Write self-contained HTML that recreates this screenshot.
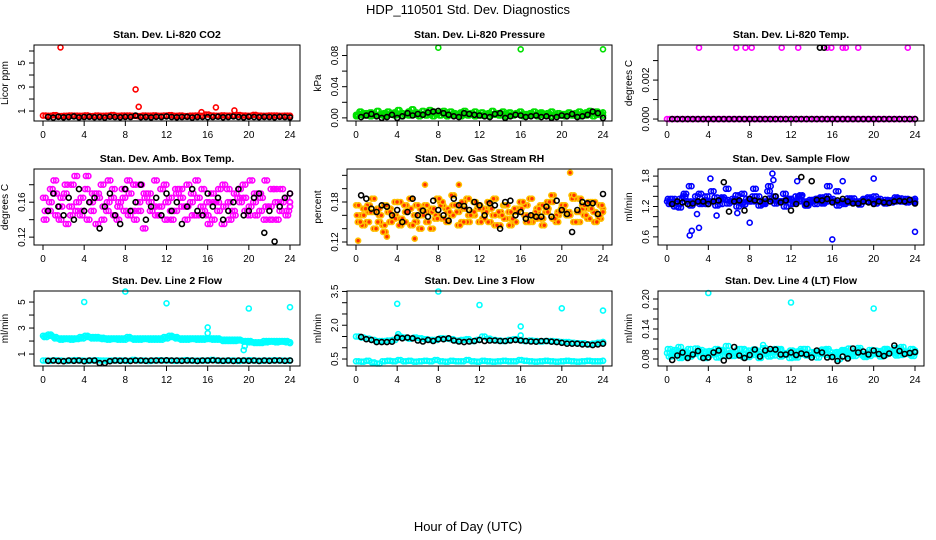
<!DOCTYPE html>
<html><head><meta charset="utf-8"><style>
body{margin:0;background:#fff;}
svg{display:block;font-family:"Liberation Sans",sans-serif;}
</style></head><body>
<svg id="c" width="936" height="540" viewBox="0 0 936 540">
<text x="468" y="14" text-anchor="middle" font-size="13">HDP_110501  Std. Dev. Diagnostics</text>
<text x="468" y="531" text-anchor="middle" font-size="13">Hour of Day (UTC)</text>
</svg>
<script>
const p1Red=[0.62,0.6,0.65,0.58,0.6,0.63,0.61,0.6,0.64,0.59,0.62,0.6,0.61,0.66,0.6,0.62,0.63,0.6,0.58,0.62,0.61,0.64,0.6,0.62,0.65,0.6,0.62,0.59,0.61,0.63,0.6,0.7,0.62,0.6,0.64,0.61,0.6,0.66,0.62,0.6,0.68,0.61,0.6,0.63,0.62,0.6,0.61,0.6];
const p1Blk=[0.5,0.45,0.52,0.48,0.5,0.55,0.47,0.5,0.52,0.49,0.5,0.46,0.53,0.5,0.48,0.51,0.5,0.62,0.49,0.5,0.47,0.52,0.5,0.55,0.5,0.48,0.5,0.52,0.46,0.5,0.51,0.49,0.5,0.53,0.48,0.5,0.55,0.5,0.47,0.52,0.5,0.49,0.51,0.5,0.48,0.52,0.5,0.47];
const p1OutX=[1.7,9.0,9.3,15.4,16.8,18.6];
const p1OutY=[6.3,2.8,1.35,0.9,1.3,1.05];

const p2GreenA=[0.004,0.008,0.006,0.003,0.007,0.005,0.009,0.004,0.006,0.008,0.005,0.007,0.010,0.006,0.004,0.008,0.011,0.007,0.005,0.009,0.006,0.010,0.008,0.006,0.007,0.009,0.005,0.008,0.006,0.004,0.007,0.009,0.005,0.006,0.008,0.004,0.007,0.005,0.006,0.009,0.004,0.006,0.008,0.005,0.007,0.004,0.006,0.008,0.005,0.003,0.006,0.008,0.004,0.007,0.005,0.006,0.008,0.004,0.006,0.003,0.005,0.007,0.004,0.006,0.008,0.005,0.007,0.009,0.006,0.008,0.005,0.007];
const p2GreenB=[0.002,0.005,0.003,0.006,0.002,0.004,0.003,0.005,0.002,0.004,0.006,0.003,0.005,0.002,0.004,0.003,0.006,0.004,0.002,0.005,0.003,0.004,0.002,0.005,0.003,0.006,0.002,0.004,0.003,0.005,0.002,0.004,0.003,0.006,0.002,0.004,0.003,0.005,0.002,0.004,0.006,0.003,0.005,0.002,0.004,0.003,0.006,0.004,0.002,0.005,0.003,0.004,0.002,0.005,0.003,0.006,0.002,0.004,0.003,0.005,0.002,0.004,0.003,0.006,0.002,0.004,0.003,0.005,0.002,0.004,0.006,0.003];
const p2Blk=[0.001,0.003,0.005,0.002,0.0,0.001,0.004,0.0,0.002,0.006,0.003,0.005,0.004,0.007,0.008,0.009,0.006,0.004,0.002,0.001,0.006,0.005,0.004,0.003,0.002,0.001,0.005,0.006,0.0,0.002,0.004,0.003,0.001,0.002,0.003,0.001,0.002,0.0,0.001,0.003,0.002,0.005,0.001,0.002,0.004,0.008,0.006,0.0];
const p2OutX=[8,16,24];
const p2OutY=[0.09,0.088,0.088];

const p3Mag=[0,0,0,0,0,0,0,0,0,0,0,0,0,0,0,0,0,0,0,0,0,0,0,0,0,0,0,0,0,0,0,0,0,0,0,0,0,0,0,0,0,0,0,0,0,0,0,0];
const p3Blk=[0,0,0,0,0,0,0,0,0,0,0,0,0,0,0,0,0,0,0,0,0,0,0,0,0,0,0,0,0,0,0,0,0,0,0,0,0,0,0,0,0,0,0,0,0,0,0,0];
const p3OutX=[3.1,6.7,7.6,8.2,11.1,12.7,15.5,15.9,17.0,17.3,18.5,23.3];
const p3OutY=[0.00366,0.00366,0.00366,0.00366,0.00366,0.00366,0.00366,0.00366,0.00366,0.00366,0.00366,0.00366];
const p3BlkOutX=[14.8,15.2];
const p3BlkOutY=[0.00366,0.00366];

const p4A=[.165,.150,.185,.140,.170,.155,.190,.145,.175,.160,.135,.180,.150,.165,.140,.175,.185,.150,.160,.130,.170,.155,.145,.180,.165,.150,.175,.140,.160,.185,.155,.145,.170,.160,.135,.175,.150,.165,.180,.145,.160,.170,.140,.155,.175,.150,.165,.160];
const p4B=[.150,.175,.145,.165,.135,.180,.160,.150,.140,.170,.165,.155,.185,.145,.160,.150,.170,.140,.180,.165,.150,.145,.175,.160,.140,.170,.155,.180,.145,.165,.150,.135,.160,.175,.155,.140,.170,.160,.150,.185,.145,.165,.155,.175,.140,.160,.150,.170];
const p4C=[.140,.160,.170,.155,.180,.145,.150,.165,.190,.150,.170,.140,.160,.175,.155,.165,.145,.180,.150,.170,.160,.185,.155,.140,.150,.175,.165,.155,.170,.145,.175,.160,.140,.150,.180,.160,.145,.175,.165,.155,.170,.150,.185,.140,.160,.175,.145,.155];
const p4Blk=[.150,.170,.155,.145,.165,.140,.175,.150,.160,.165,.130,.155,.170,.145,.135,.175,.150,.160,.180,.140,.155,.165,.145,.170,.150,.160,.135,.155,.175,.150,.145,.170,.155,.165,.140,.150,.160,.175,.145,.150,.165,.170,.125,.150,.115,.155,.165,.170];

const p5A=[.175,.160,.150,.185,.170,.145,.165,.155,.180,.150,.170,.160,.140,.175,.165,.155,.180,.170,.160,.175,.150,.185,.165,.170,.155,.180,.160,.145,.175,.165,.150,.170,.160,.185,.155,.175,.165,.180,.150,.170,.160,.190,.165,.175,.155,.180,.160,.170];
const p5B=[.150,.170,.165,.140,.160,.175,.150,.180,.155,.165,.145,.175,.160,.150,.170,.185,.155,.165,.175,.145,.170,.160,.180,.150,.165,.170,.145,.160,.175,.155,.165,.180,.150,.160,.170,.145,.180,.155,.165,.175,.160,.150,.185,.160,.170,.150,.175,.165];
const p5C=[.160,.145,.175,.165,.150,.135,.170,.160,.145,.175,.185,.150,.170,.165,.140,.160,.175,.150,.190,.165,.180,.150,.160,.175,.170,.150,.185,.165,.155,.145,.170,.180,.175,.150,.165,.155,.170,.190,.160,.175,.165,.185,.150,.170,.180,.165,.155,.170];
const p5Blk=[.190,.185,.170,.165,.175,.173,.160,.168,.150,.165,.185,.160,.167,.158,.182,.168,.160,.152,.185,.175,.174,.168,.180,.175,.160,.178,.175,.140,.180,.182,.160,.165,.155,.160,.158,.158,.173,.158,.182,.168,.162,.135,.168,.180,.178,.178,.162,.192];
const p5OutX=[0.2,3.0,5.7,6.7,10.0,20.8];
const p5OutY=[0.122,0.128,0.125,0.206,0.206,0.224];

const p6A=[1.30,1.35,1.25,1.40,1.30,1.28,1.45,1.32,1.30,1.38,1.25,1.33,1.30,1.42,1.28,1.35,1.30,1.40,1.27,1.50,1.32,1.30,1.45,1.35,1.28,1.40,1.30,1.33,1.25,1.38,1.30,1.35,1.50,1.30,1.28,1.36,1.30,1.32,1.38,1.30,1.35,1.28,1.32,1.30,1.36,1.30,1.33,1.35];
const p6B=[1.25,1.20,1.35,1.30,1.22,1.40,1.28,1.25,1.50,1.30,1.38,1.26,1.35,1.30,1.24,1.30,1.55,1.22,1.30,1.36,1.26,1.30,1.32,1.25,1.40,1.30,1.22,1.30,1.35,1.26,1.60,1.30,1.28,1.25,1.32,1.28,1.24,1.30,1.35,1.26,1.30,1.33,1.28,1.35,1.30,1.28,1.32,1.28];
const p6C=[1.35,1.30,1.18,1.45,1.60,1.30,1.25,1.40,1.30,1.22,1.35,1.55,1.30,1.20,1.45,1.30,1.40,1.30,1.25,1.60,1.40,1.30,1.20,1.35,1.30,1.42,1.22,1.30,1.35,1.28,1.40,1.30,1.22,1.30,1.36,1.30,1.28,1.35,1.30,1.40,1.30,1.26,1.32,1.38,1.30,1.35,1.30,1.30];
const p6OutX=[2.2,2.4,2.9,3.1,4.2,4.8,8.0,10.3,10.2,12.6,16.0,17.0,20.0,24.0,6.8];
const p6OutY=[0.63,0.72,1.05,0.78,1.75,1.02,0.88,1.72,1.85,1.70,0.55,1.70,1.75,0.70,1.07];
const p6Blk=[1.25,1.3,1.28,1.25,1.26,1.3,1.3,1.25,1.3,1.32,1.68,1.1,1.3,1.32,1.12,1.35,1.32,1.3,1.35,1.3,1.4,1.28,1.32,1.12,1.25,1.78,1.25,1.7,1.33,1.32,1.35,1.28,1.32,1.35,1.3,1.26,1.26,1.3,1.28,1.25,1.3,1.28,1.27,1.3,1.31,1.3,1.33,1.26];

const p7Top=[2.4,2.5,2.3,2.2,2.2,2.2,2.2,2.3,2.4,2.3,2.3,2.25,2.2,2.2,2.2,2.2,2.3,2.2,2.2,2.2,2.2,2.2,2.2,2.3,2.4,2.3,2.2,2.2,2.2,2.2,2.2,2.2,2.2,2.2,2.1,2.1,2.1,2.1,2.0,2.0,1.9,1.9,2.0,2.0,2.0,2.0,2.0,1.9];
const p7Top2=[2.3,2.4,2.2,2.1,2.15,2.1,2.15,2.2,2.3,2.2,2.2,2.15,2.1,2.15,2.1,2.1,2.2,2.1,2.1,2.15,2.1,2.1,2.1,2.2,2.3,2.2,2.1,2.1,2.15,2.1,2.1,2.15,2.1,2.1,2.0,2.0,2.0,2.05,1.95,1.9,1.85,1.85,1.9,1.95,1.9,1.95,1.9,1.85];
const p7Bot=[0.5,0.48,0.52,0.5,0.47,0.5,0.53,0.5,0.48,0.5,0.52,0.5,0.49,0.5,0.51,0.5,0.48,0.55,0.5,0.5,0.47,0.5,0.52,0.5,0.5,0.48,0.5,0.53,0.5,0.49,0.5,0.5,0.55,0.5,0.48,0.5,0.5,0.47,0.5,0.52,0.5,0.48,0.5,0.5,0.52,0.5,0.49,0.5];
const p7Blk=[0.48,0.5,0.47,0.45,0.5,0.48,0.5,0.45,0.5,0.5,0.3,0.3,0.45,0.5,0.48,0.5,0.47,0.5,0.5,0.48,0.5,0.5,0.5,0.52,0.5,0.5,0.48,0.5,0.5,0.47,0.5,0.5,0.52,0.5,0.48,0.5,0.47,0.5,0.5,0.48,0.5,0.47,0.5,0.48,0.5,0.5,0.48,0.5];
const p7OutX=[4,8,12,16,16,19.5,19.6,20,24];
const p7OutY=[5.0,5.8,4.9,3.05,2.6,1.3,1.6,4.5,4.6];

const p8Bot=[0.4,0.38,0.42,0.35,0.3,0.4,0.42,0.4,0.45,0.4,0.42,0.38,0.4,0.42,0.4,0.45,0.4,0.38,0.42,0.4,0.4,0.45,0.4,0.38,0.42,0.4,0.38,0.4,0.42,0.4,0.4,0.45,0.42,0.4,0.38,0.4,0.42,0.4,0.38,0.4,0.42,0.4,0.38,0.4,0.42,0.4,0.4,0.42];
const p8Mid=[1.5,1.45,1.4,1.35,1.3,1.3,1.32,1.35,1.5,1.45,1.4,1.45,1.42,1.38,1.35,1.35,1.42,1.4,1.38,1.32,1.35,1.38,1.3,1.35,1.5,1.4,1.35,1.32,1.3,1.35,1.38,1.35,1.3,1.32,1.3,1.28,1.3,1.3,1.28,1.25,1.25,1.22,1.2,1.2,1.15,1.18,1.22,1.25];
const p8Blk=[1.48,1.38,1.35,1.25,1.25,1.25,1.27,1.45,1.42,1.45,1.42,1.32,1.28,1.35,1.3,1.38,1.38,1.42,1.32,1.28,1.25,1.28,1.3,1.35,1.3,1.32,1.32,1.3,1.3,1.32,1.35,1.32,1.3,1.28,1.27,1.3,1.3,1.27,1.25,1.22,1.18,1.18,1.18,1.15,1.15,1.12,1.15,1.18];
const p8OutX=[4,4.1,8,12,16,16,20,24];
const p8OutY=[2.95,1.6,3.5,2.9,1.95,1.55,2.75,2.65];

const p9A=[.092,.088,.095,.085,.1,.09,.094,.087,.096,.09,.098,.086,.093,.091,.089,.097,.088,.095,.09,.092,.087,.099,.09,.093,.085,.096,.091,.088,.094,.09,.097,.086,.092,.095,.089,.091,.098,.087,.093,.09,.096,.088,.094,.091,.099,.092,.089,.095];
const p9B=[.085,.098,.082,.093,.088,.101,.084,.095,.089,.083,.097,.091,.086,.1,.084,.093,.099,.082,.09,.096,.1,.085,.092,.097,.083,.1,.087,.094,.083,.099,.088,.093,.08,.096,.101,.086,.092,.084,.098,.09,.085,.1,.093,.087,.104,.095,.086,.097];
const p9C=[.1,.09,.104,.095,.085,.092,.098,.082,.09,.1,.086,.106,.092,.088,.1,.084,.095,.09,.102,.085,.094,.1,.088,.082,.095,.09,.1,.087,.093,.096,.1,.088,.094,.098,.085,.092,.102,.09,.086,.097,.091,.1,.095,.102,.088,.094,.1,.092];
const p9Blk=[.078,.087,.093,.082,.089,.096,.082,.083,.093,.097,.077,.086,.104,.087,.082,.088,.099,.085,.097,.1,.099,.089,.089,.093,.088,.091,.089,.083,.097,.093,.083,.084,.076,.085,.081,.101,.093,.095,.089,.097,.09,.086,.091,.107,.096,.09,.092,.094];
const p9OutX=[4,12,20,9.3];
const p9OutY=[0.212,0.193,0.181,0.108];

const colL=[34,347,658],colR=[300,612,924],colX0=[43,356,667],colX24=[290,603,915];
const rowT=[45,169,291],rowB=[121,245,366];
const svg=document.getElementById('c');
const NS='http://www.w3.org/2000/svg';
function mk(tag,attrs,parent){const e=document.createElementNS(NS,tag);for(const k in attrs)e.setAttribute(k,attrs[k]);parent.appendChild(e);return e;}
function cloud(a,b,c,col,fill){return [{v:a,c:col,f:fill},{v:b,c:col,f:fill,off:0.17},{v:c,c:col,f:fill,off:0.33},{v:c,c:col,f:fill,off:0.08},{v:a,c:col,f:fill,off:0.25},{v:b,c:col,f:fill,off:0.42}];}

const panels=[
 {id:'co2',title:'Stan. Dev. Li-820 CO2',ylab:'Licor ppm',ymin:0.17,ymax:6.5,ticks:[1,2,3,4,5,6],labels:[1,3,5],fmt:v=>String(v),
  series:[{v:p1Red,c:'#ff0000'},{v:p1Red,c:'#ff0000',off:0.25},{v:p1Blk,c:'#000',blk:1},{x:p1OutX,v:p1OutY,c:'#ff0000'}]},
 {id:'pressure',title:'Stan. Dev. Li-820 Pressure',ylab:'kPa',ymin:-0.004,ymax:0.0935,ticks:[0,0.02,0.04,0.06,0.08],labels:[0,0.04,0.08],fmt:v=>v.toFixed(2),
  series:[{v:p2GreenA,c:'#00e000'},{v:p2GreenB,c:'#00e000'},{v:p2GreenB,c:'#00e000',off:0.17},{v:p2GreenA,c:'#00e000',off:0.17},{v:p2Blk,c:'#000',blk:1},{x:p2OutX,v:p2OutY,c:'#00e000'}]},
 {id:'temp',title:'Stan. Dev. Li-820 Temp.',ylab:'degrees C',ymin:-0.0001,ymax:0.0038,ticks:[0,0.001,0.002,0.003],labels:[0,0.002],fmt:v=>v.toFixed(3),
  series:[{v:p3Mag,c:'#ff00ff'},{v:p3Mag,c:'#ff00ff',off:0.25},{v:p3Blk,c:'#000',blk:1},{x:p3OutX,v:p3OutY,c:'#ff00ff'},{x:p3BlkOutX,v:p3BlkOutY,c:'#000'}]},
 {id:'amb-box-temp',title:'Stan. Dev. Amb. Box Temp.',ylab:'degrees C',ymin:0.111,ymax:0.198,ticks:[0.12,0.14,0.16,0.18],labels:[0.12,0.16],fmt:v=>v.toFixed(2),
  series:cloud(p4A,p4B,p4C,'#ff00ff').concat([{v:p4Blk,c:'#000',blk:1}])},
 {id:'gas-rh',title:'Stan. Dev. Gas Stream RH',ylab:'percent',ymin:0.1155,ymax:0.2295,ticks:[0.12,0.14,0.16,0.18,0.20,0.22],labels:[0.12,0.18],fmt:v=>v.toFixed(2),
  series:cloud(p5A,p5B,p5C,'#ffc000','#ff3000').concat([{x:p5OutX,v:p5OutY,c:'#ffc000',f:'#ff3000'},{v:p5Blk,c:'#000',blk:1}])},
 {id:'sample-flow',title:'Stan. Dev. Sample Flow',ylab:'ml/min',ymin:0.44,ymax:1.94,ticks:[0.6,0.8,1.0,1.2,1.4,1.6,1.8],labels:[0.6,1.2,1.8],fmt:v=>v.toFixed(1),
  series:cloud(p6A,p6B,p6C,'#0000ff').concat([{x:p6OutX,v:p6OutY,c:'#0000ff'},{v:p6Blk,c:'#000',blk:1}])},
 {id:'line2-flow',title:'Stan. Dev. Line 2 Flow',ylab:'ml/min',ymin:0.08,ymax:5.85,ticks:[1,2,3,4,5],labels:[1,3,5],fmt:v=>String(v),
  series:[{v:p7Top,c:'#00ffff'},{v:p7Top,c:'#00ffff',off:0.25},{v:p7Top2,c:'#00ffff',off:0.12},{v:p7Top2,c:'#00ffff',off:0.37},{v:p7Bot,c:'#00ffff'},{v:p7Bot,c:'#00ffff',off:0.25},{x:p7OutX,v:p7OutY,c:'#00ffff'},{v:p7Blk,c:'#000',blk:1}]},
 {id:'line3-flow',title:'Stan. Dev. Line 3 Flow',ylab:'ml/min',ymin:0.19,ymax:3.52,ticks:[0.5,1,1.5,2,2.5,3,3.5],labels:[0.5,2,3.5],fmt:v=>v.toFixed(1),
  series:[{v:p8Bot,c:'#00ffff'},{v:p8Bot,c:'#00ffff',off:0.25},{v:p8Mid,c:'#00ffff'},{v:p8Mid,c:'#00ffff',off:0.25},{x:p8OutX,v:p8OutY,c:'#00ffff'},{v:p8Blk,c:'#000',blk:1}]},
 {id:'line4-flow',title:'Stan. Dev. Line 4 (LT) Flow',ylab:'ml/min',ymin:0.066,ymax:0.216,ticks:[0.08,0.1,0.12,0.14,0.16,0.18,0.2],labels:[0.08,0.14,0.2],fmt:v=>v.toFixed(2),
  series:cloud(p9A,p9B,p9C,'#00ffff').concat([{x:p9OutX,v:p9OutY,c:'#00ffff'},{v:p9Blk,c:'#000',blk:1}])}
];

panels.forEach((p,i)=>{
  const col=i%3,row=Math.floor(i/3);
  const L=colL[col],R=colR[col],T=rowT[row],B=rowB[row];
  const xs=h=>colX0[col]+(colX24[col]-colX0[col])*h/24;
  const ys=v=>B-(v-p.ymin)/(p.ymax-p.ymin)*(B-T);
  const g=mk('g',{},svg);
  
  
  const t=mk('text',{x:(L+R)/2,y:T-7,'text-anchor':'middle','font-size':'10.5','font-weight':'bold'},g);
  t.textContent=p.title;
  
  
  const yl=mk('text',{x:0,y:0,transform:`translate(${L-26},${(T+B)/2}) rotate(-90)`,'text-anchor':'middle','font-size':'10'},g);
  yl.textContent=p.ylab;
  
  
  const pts=mk('g',{},g);
  
  
  p.series.forEach(s=>{
    const n=s.v.length;
    s.v.forEach((v,k)=>{
      let h;
      if(s.x) h=s.x[k];
      else if(s.blk) h=0.5+k*23.5/(n-1);
      else h=Math.min(24,k*24/(n-1)+(s.off||0));
      const c=mk('circle',{cx:xs(h).toFixed(1),cy:ys(v).toFixed(1),r:2.5,fill:s.f||'none',stroke:s.c,'stroke-width':1.6},pts);
      
      
    });
  });
  const box=mk('rect',{x:L,y:T,width:R-L,height:B-T,fill:'none',stroke:'#000','stroke-width':1},g);
  
  
  [0,4,8,12,16,20,24].forEach(h=>{
    const x=xs(h);
    const tk=mk('line',{x1:x,x2:x,y1:B,y2:B+5,stroke:'#000'},g);
    
    
    const lb=mk('text',{x:x,y:B+17,'text-anchor':'middle','font-size':'10'},g);
    lb.textContent=h;
    
    
  });
  p.ticks.forEach(v=>{
    const y=ys(v);
    const tk=mk('line',{x1:L-5,x2:L,y1:y,y2:y,stroke:'#000'},g);
    
    
  });
  p.labels.forEach(v=>{
    const y=ys(v);
    const lb=mk('text',{x:0,y:0,transform:`translate(${L-9},${y}) rotate(-90)`,'text-anchor':'middle','font-size':'10'},g);
    lb.textContent=p.fmt(v);
    
    
  });
});
</script>
</body></html>
